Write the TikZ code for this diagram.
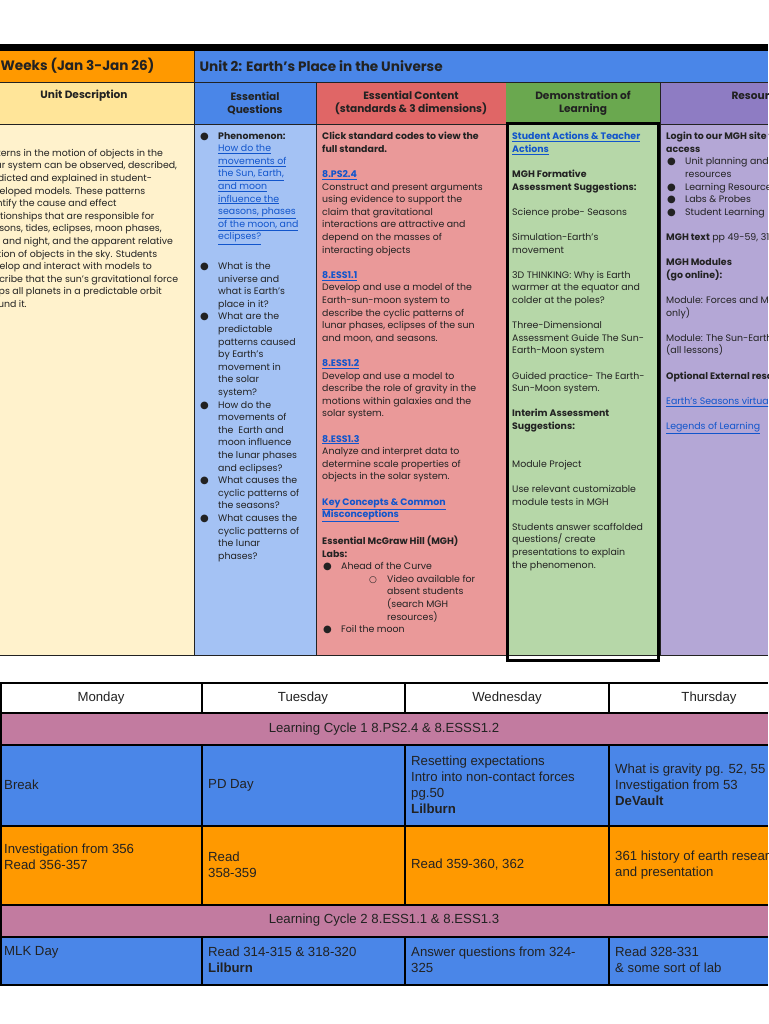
\documentclass[tikz,border=0pt]{standalone}
\usepackage{fontspec}
\setmainfont{Poppins}
\newfontfamily\gridfont{Liberation Sans}
\newfontfamily\symfont{DejaVu Sans}
\usetikzlibrary{positioning}
\definecolor{hdorange}{HTML}{FF9900}
\definecolor{hdblue}{HTML}{4A86E8}
\definecolor{hdyellow}{HTML}{FFE599}
\definecolor{bdyellow}{HTML}{FFF2CC}
\definecolor{bdblue}{HTML}{A4C2F4}
\definecolor{hdred}{HTML}{E06666}
\definecolor{bdred}{HTML}{EA9999}
\definecolor{hdgreen}{HTML}{6AA84F}
\definecolor{bdgreen}{HTML}{B6D7A8}
\definecolor{hdpurple}{HTML}{8E7CC3}
\definecolor{bdpurple}{HTML}{B4A7D6}
\definecolor{cyclepink}{HTML}{C27BA0}
\definecolor{linkblue}{HTML}{1155CC}
\definecolor{ink}{HTML}{222222}
\newcommand{\lnk}[1]{\textcolor{linkblue}{\underline{#1}}}
\newcommand{\bul}{\makebox[18pt][l]{\symfont\fontsize{10}{10}\selectfont ●}}
\newcommand{\hol}{\makebox[18pt][l]{\symfont\fontsize{9}{9}\selectfont ○}}
\tikzset{
  cell/.style={draw=ink, line width=0.8pt},
  head/.style={font=\fontsize{10.6}{13}\selectfont\bfseries, align=center, text=ink},
  top/.style={font=\fontsize{13.6}{15}\selectfont\bfseries, anchor=west, text=ink},
  body/.style={font=\fontsize{9.4}{12.6}\selectfont, align=left, anchor=north west, inner sep=0pt, text=ink},
  grid/.style={font=\gridfont\fontsize{13.2}{16}\selectfont, align=left, anchor=west, inner sep=0pt, text=ink}
}
\begin{document}
\begin{tikzpicture}[x=1pt, y=-1pt]
  \useasboundingbox (0,0) rectangle (768,1024);
  \fill[white] (0,0) rectangle (768,1024);
  \begin{scope}
    \clip (0,0) rectangle (768,1024);
    % top table: fills
    \fill[black] (0,44) rectangle (768,51);
    \fill[hdorange] (0,51) rectangle (194,82);
    \fill[hdblue] (194,51) rectangle (768,82);
    \fill[hdyellow] (0,82) rectangle (194,124);
    \fill[hdblue] (194,82) rectangle (316,124);
    \fill[hdred] (316,82) rectangle (506,124);
    \fill[hdgreen] (506,82) rectangle (660,124);
    \fill[hdpurple] (660,82) rectangle (768,124);
    \fill[bdyellow] (0,124) rectangle (194,655);
    \fill[bdblue] (194,124) rectangle (316,655);
    \fill[bdred] (316,124) rectangle (506,655);
    \fill[bdgreen] (506,124) rectangle (660,655);
    \fill[bdpurple] (660,124) rectangle (768,655);
    % top table: rules
    \draw[cell] (0,82) -- (768,82);
    \draw[cell] (0,124) -- (768,124);
    \draw[cell] (0,655) -- (768,655);
    \draw[cell] (194,51) -- (194,655);
    \draw[cell] (316,82) -- (316,655);
    \draw[cell] (660,82) -- (660,655);
    \draw[line width=3pt] (507.5,124) rectangle (658.5,660.5);
    % top table: headers
    \node[top] (weeks) at (-14,66) {3 Weeks (Jan 3-Jan 26)};
    \node[top] (unit) at (196,66) {Unit 2: Earth’s Place in the Universe};
    \node[head] (hdesc) at (84,96) {Unit Description};
    \node[head] (hques) at (255,103) {Essential\\Questions};
    \node[head] (hcont) at (411,103) {Essential Content\\(standards \& 3 dimensions)};
    \node[head] (hdemo) at (583,103) {Demonstration of\\Learning};
    \node[head, anchor=west] (hres) at (728,96) {Resources};
    % top table: bodies
    \node[body] (desc) at (-18,149) {Patterns in the motion of objects in the\\
      solar system can be observed, described,\\
      predicted and explained in student-\\
      developed models. These patterns\\
      identify the cause and effect\\
      relationships that are responsible for\\
      seasons, tides, eclipses, moon phases,\\
      day and night, and the apparent relative\\
      motion of objects in the sky. Students\\
      develop and interact with models to\\
      describe that the sun’s gravitational force\\
      keeps all planets in a predictable orbit\\
      around it.};
    \node[body] (ques) at (200,132) {\bul\textbf{Phenomenon:}\\
      \hspace*{18pt}\lnk{How do the}\\
      \hspace*{18pt}\lnk{movements of}\\
      \hspace*{18pt}\lnk{the Sun, Earth,}\\
      \hspace*{18pt}\lnk{and moon}\\
      \hspace*{18pt}\lnk{influence the}\\
      \hspace*{18pt}\lnk{seasons, phases}\\
      \hspace*{18pt}\lnk{of the moon, and}\\
      \hspace*{18pt}\lnk{eclipses?}\\[17pt]
      \bul What is the\\
      \hspace*{18pt}universe and\\
      \hspace*{18pt}what is Earth’s\\
      \hspace*{18pt}place in it?\\
      \bul What are the\\
      \hspace*{18pt}predictable\\
      \hspace*{18pt}patterns caused\\
      \hspace*{18pt}by Earth’s\\
      \hspace*{18pt}movement in\\
      \hspace*{18pt}the solar\\
      \hspace*{18pt}system?\\
      \bul How do the\\
      \hspace*{18pt}movements of\\
      \hspace*{18pt}the \ Earth and\\
      \hspace*{18pt}moon influence\\
      \hspace*{18pt}the lunar phases\\
      \hspace*{18pt}and eclipses?\\
      \bul What causes the\\
      \hspace*{18pt}cyclic patterns of\\
      \hspace*{18pt}the seasons?\\
      \bul What causes the\\
      \hspace*{18pt}cyclic patterns of\\
      \hspace*{18pt}the lunar\\
      \hspace*{18pt}phases?};
    \node[body] (cont) at (322,132) {\textbf{Click standard codes to view the}\\
      \textbf{full standard.}\\[12.6pt]
      \textbf{\lnk{8.PS2.4}}\\
      Construct and present arguments\\
      using evidence to support the\\
      claim that gravitational\\
      interactions are attractive and\\
      depend on the masses of\\
      interacting objects\\[12.6pt]
      \textbf{\lnk{8.ESS1.1}}\\
      Develop and use a model of the\\
      Earth-sun-moon system to\\
      describe the cyclic patterns of\\
      lunar phases, eclipses of the sun\\
      and moon, and seasons.\\[12.6pt]
      \textbf{\lnk{8.ESS1.2}}\\
      Develop and use a model to\\
      describe the role of gravity in the\\
      motions within galaxies and the\\
      solar system.\\[12.6pt]
      \textbf{\lnk{8.ESS1.3}}\\
      Analyze and interpret data to\\
      determine scale properties of\\
      objects in the solar system.\\[12.6pt]
      \textbf{\lnk{Key Concepts \& Common}}\\
      \textbf{\lnk{Misconceptions}}\\[12.6pt]
      \textbf{Essential McGraw Hill (MGH)}\\
      \textbf{Labs:}\\
      \hspace*{1pt}\bul Ahead of the Curve\\
      \hspace*{47pt}\hol Video available for\\
      \hspace*{65pt}absent students\\
      \hspace*{65pt}(search MGH\\
      \hspace*{65pt}resources)\\
      \hspace*{1pt}\bul Foil the moon};
    \node[body] (demo) at (512,132) {\textbf{\lnk{Student Actions \& Teacher}}\\
      \textbf{\lnk{Actions}}\\[12.6pt]
      \textbf{MGH Formative}\\
      \textbf{Assessment Suggestions:}\\[12.6pt]
      Science probe- Seasons\\[12.6pt]
      Simulation-Earth’s\\
      movement\\[12.6pt]
      3D THINKING: Why is Earth\\
      warmer at the equator and\\
      colder at the poles?\\[12.6pt]
      Three-Dimensional\\
      Assessment Guide The Sun-\\
      Earth-Moon system\\[12.6pt]
      Guided practice- The Earth-\\
      Sun-Moon system.\\[12.6pt]
      \textbf{Interim Assessment}\\
      \textbf{Suggestions:}\\[25.2pt]
      Module Project\\[12.6pt]
      Use relevant customizable\\
      module tests in MGH\\[12.6pt]
      Students answer scaffolded\\
      questions/ create\\
      presentations to explain\\
      the phenomenon.};
    \node[body] (res) at (666,132) {\textbf{Login to our MGH site for}\\
      \textbf{access}\\
      \hspace*{1pt}\bul Unit planning and\\
      \hspace*{19pt}resources\\
      \hspace*{1pt}\bul Learning Resources\\
      \hspace*{1pt}\bul Labs \& Probes\\
      \hspace*{1pt}\bul Student Learning\\[12.6pt]
      \textbf{MGH text} pp 49-59, 314-362\\[12.6pt]
      \textbf{MGH Modules}\\
      \textbf{(go online):}\\[12.6pt]
      Module: Forces and Motion\\
      only)\\[12.6pt]
      Module: The Sun-Earth-Moon\\
      (all lessons)\\[12.6pt]
      \textbf{Optional External resources}\\[12.6pt]
      \lnk{Earth’s Seasons virtual lab}\\[12.6pt]
      \lnk{Legends of Learning}};
    % bottom table: fills
    \fill[cyclepink] (0,713) rectangle (768,745);
    \fill[hdblue] (0,745) rectangle (768,826);
    \fill[hdorange] (0,826) rectangle (768,905);
    \fill[cyclepink] (0,905) rectangle (768,937);
    \fill[hdblue] (0,937) rectangle (768,985);
    % bottom table: rules
    \foreach \y in {683,713,745,826,905,937,985}
      \draw[line width=1.2pt] (0,\y) -- (768,\y);
    \draw[line width=1.2pt] (1,683) -- (1,985);
    \foreach \x in {202,405,609}{
      \draw[line width=1.2pt] (\x,683) -- (\x,713);
      \draw[line width=1.2pt] (\x,745) -- (\x,905);
      \draw[line width=1.2pt] (\x,937) -- (\x,985);
    }
    % bottom table: texts
    \node[grid, anchor=center] (mon) at (101,698) {Monday};
    \node[grid, anchor=center] (tue) at (303,698) {Tuesday};
    \node[grid, anchor=center] (wed) at (507,698) {Wednesday};
    \node[grid, anchor=center] (thu) at (709,698) {Thursday};
    \node[grid, anchor=center] (cyc1) at (384,729) {Learning Cycle 1 8.PS2.4 \& 8.ESSS1.2};
    \node[grid] (r1mon) at (4,785) {Break};
    \node[grid] (r1tue) at (208,785) {PD Day};
    \node[grid] (r1wed) at (411,785) {Resetting expectations\\Intro into non-contact forces\\pg.50\\\textbf{Lilburn}};
    \node[grid] (r1thu) at (615,785) {What is gravity pg. 52, 55\\Investigation from 53\\\textbf{DeVault}};
    \node[grid] (r2mon) at (4,857) {Investigation from 356\\Read 356-357};
    \node[grid] (r2tue) at (208,865) {Read\\358-359};
    \node[grid] (r2wed) at (411,865) {Read 359-360, 362};
    \node[grid] (r2thu) at (615,865) {361 history of earth research\\and presentation};
    \node[grid, anchor=center] (cyc2) at (384,920) {Learning Cycle 2 8.ESS1.1 \& 8.ESS1.3};
    \node[grid] (r3mon) at (4,952) {MLK Day};
    \node[grid] (r3tue) at (208,960) {Read 314-315 \& 318-320\\\textbf{Lilburn}};
    \node[grid] (r3wed) at (411,960) {Answer questions from 324-\\325};
    \node[grid] (r3thu) at (615,960) {Read 328-331\\\& some sort of lab};
  \end{scope}
\end{tikzpicture}
\end{document}
